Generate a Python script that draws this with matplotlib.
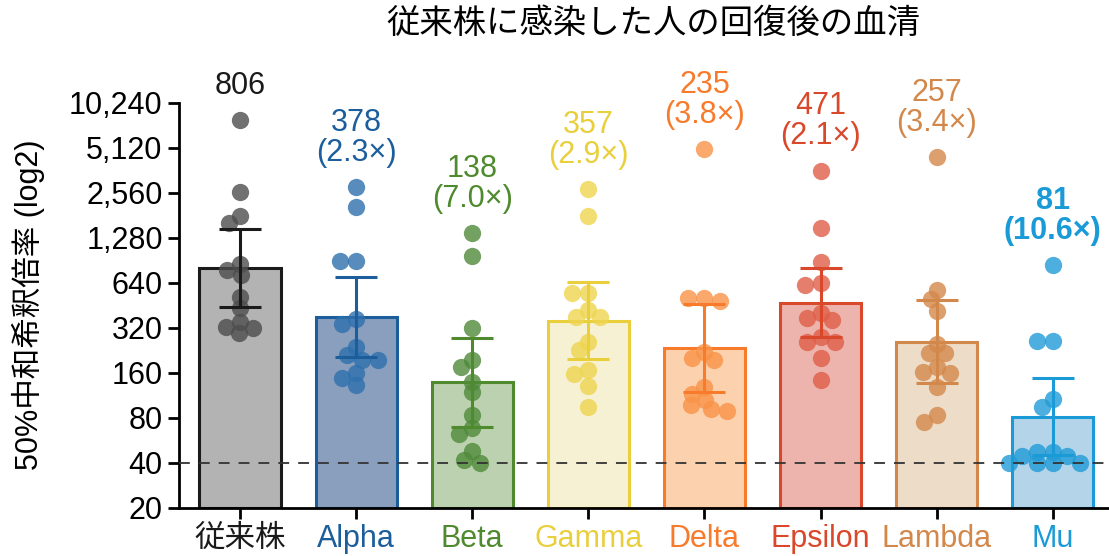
import numpy as np
import matplotlib
matplotlib.use("Agg")
import matplotlib.pyplot as plt
from matplotlib.ticker import FixedLocator, FixedFormatter

plt.rcParams['font.family'] = ['Liberation Sans', 'Noto Sans CJK JP', 'DejaVu Sans']

# data
categories = ['従来株', 'Alpha', 'Beta', 'Gamma', 'Delta', 'Epsilon', 'Lambda', 'Mu']
geo_mean = [806, 378, 138, 357, 235, 471, 257, 81]
fold = [None, 2.3, 7.0, 2.9, 3.8, 2.1, 3.4, 10.6]
err_hi = [1457, 699, 274, 644, 459, 799, 490, 147]
err_lo = [442, 205, 69, 198, 118, 277, 137, 45]

pts_wt = [7850, 2600, 1790, 1600, 854, 778, 721, 511, 431, 351, 325, 317, 294]
pts_alpha = [2780, 2045, 894, 894, 364, 337, 239, 210, 195, 195, 159, 147, 132]
pts_beta = [1370, 965, 320, 195, 175, 139, 118, 84, 68, 62, 48, 42, 40]
pts_gamma = [2700, 1790, 543, 543, 420, 379, 379, 258, 227, 167, 156, 130, 95]
pts_delta = [5000, 508, 508, 485, 221, 200, 195, 129, 116, 105, 97, 91, 88]
pts_eps = [3590, 1490, 884, 640, 618, 403, 370, 360, 279, 258, 258, 202, 144]
pts_lambda = [4420, 572, 495, 416, 248, 216, 216, 175, 161, 159, 128, 83, 75]
pts_mu = [840, 261, 261, 106, 94, 47, 47, 44, 44, 40, 40, 40, 40]
points = [pts_wt, pts_alpha, pts_beta, pts_gamma, pts_delta, pts_eps, pts_lambda, pts_mu]

yticks = [20, 40, 80, 160, 320, 640, 1280, 2560, 5120, 10240]

text_colors = ['#1a1a1a', '#1b5e9b', '#4f8a2e', '#e9cf3c', '#f77b2b', '#d9482a', '#d3884b', '#1a9bd7']
fill_colors = ['#b3b3b3', '#8a9fbe', '#bcd1b0', '#f7f1d4', '#fcd2ae', '#ecb4ac', '#ecdcc8', '#b4d4ea']
dot_colors = ['#4d4d4d', '#2e70ad', '#4f8a3a', '#eed54f', '#f99347', '#df5e48', '#d4884b', '#1f9bd7']

fig = plt.figure(figsize=(11.09, 5.56), dpi=100)
ax = fig.add_axes([0.1617, 0.0869, 0.8383, 0.7284])
ax.set_yscale('log', base=2)
ax.set_ylim(20, 10240)
ax.set_xlim(-0.523, 7.485)

x = np.arange(len(categories))
heights = [g - 20 for g in geo_mean]
ax.bar(x, heights, width=0.70, bottom=20, color=fill_colors, edgecolor=text_colors,
       linewidth=2.2, zorder=1)

# simple beeswarm in pixel space, elliptical spacing so rows can interleave
SX, SY = 16.0, 10.0
px_per_x = ax.transData.transform((1, 100))[0] - ax.transData.transform((0, 100))[0]
cands = sorted(np.arange(-60, 60.1, 0.5), key=lambda c: (abs(c), c))
for i, vals in enumerate(points):
    ypix = [ax.transData.transform((0, v))[1] for v in vals]
    placed = []
    xs = []
    for yp in ypix:
        for c in cands:
            if all(((c - px) / SX) ** 2 + ((yp - py) / SY) ** 2 >= 1 for px, py in placed):
                placed.append((c, yp))
                xs.append(i + c / px_per_x)
                break
    ax.scatter(xs, vals, s=155, color=dot_colors[i], alpha=0.8, linewidths=0, zorder=2)

for i in range(len(categories)):
    yerr = [[geo_mean[i] - err_lo[i]], [err_hi[i] - geo_mean[i]]]
    ax.errorbar(x[i], geo_mean[i], yerr=yerr, color=text_colors[i], capsize=15,
                elinewidth=2.2, capthick=2.2, zorder=3)

    top = max(points[i])
    if fold[i] is None:
        txt = f"{geo_mean[i]}"
    else:
        txt = f"{geo_mean[i]}\n({fold[i]:.1f}×)"
    ax.annotate(txt, xy=(x[i], top), xytext=(0, 14), textcoords='offset points',
                ha='center', va='bottom', fontsize=22, color=text_colors[i],
                linespacing=1.0, fontweight='bold' if i == 7 else 'normal',
                annotation_clip=False)

ax.axhline(40, color='#333333', linewidth=1.3, linestyle=(0, (6, 5)), zorder=4)

ax.yaxis.set_major_locator(FixedLocator(yticks))
ax.yaxis.set_major_formatter(FixedFormatter([f"{t:,}" for t in yticks]))
ax.yaxis.set_minor_locator(FixedLocator([]))
ax.set_xticks(x)
ax.set_xticklabels(categories, fontsize=22)
for lbl, c in zip(ax.get_xticklabels(), text_colors):
    lbl.set_color(c)
ax.tick_params(axis='y', labelsize=22, length=8, width=2, pad=4)
ax.tick_params(axis='x', length=8, width=2, pad=4)

for s in ['top', 'right']:
    ax.spines[s].set_visible(False)
for s in ['left', 'bottom']:
    ax.spines[s].set_linewidth(2)

fig.text(28 / 1109, 1 - 305 / 556, '50%中和希釈倍率 (log2)', rotation=90,
         ha='center', va='center', fontsize=22)
fig.text(653 / 1109, 1 - 24 / 556, '従来株に感染した人の回復後の血清',
         ha='center', va='center', fontsize=24)

fig.savefig('out.png', dpi=100)
